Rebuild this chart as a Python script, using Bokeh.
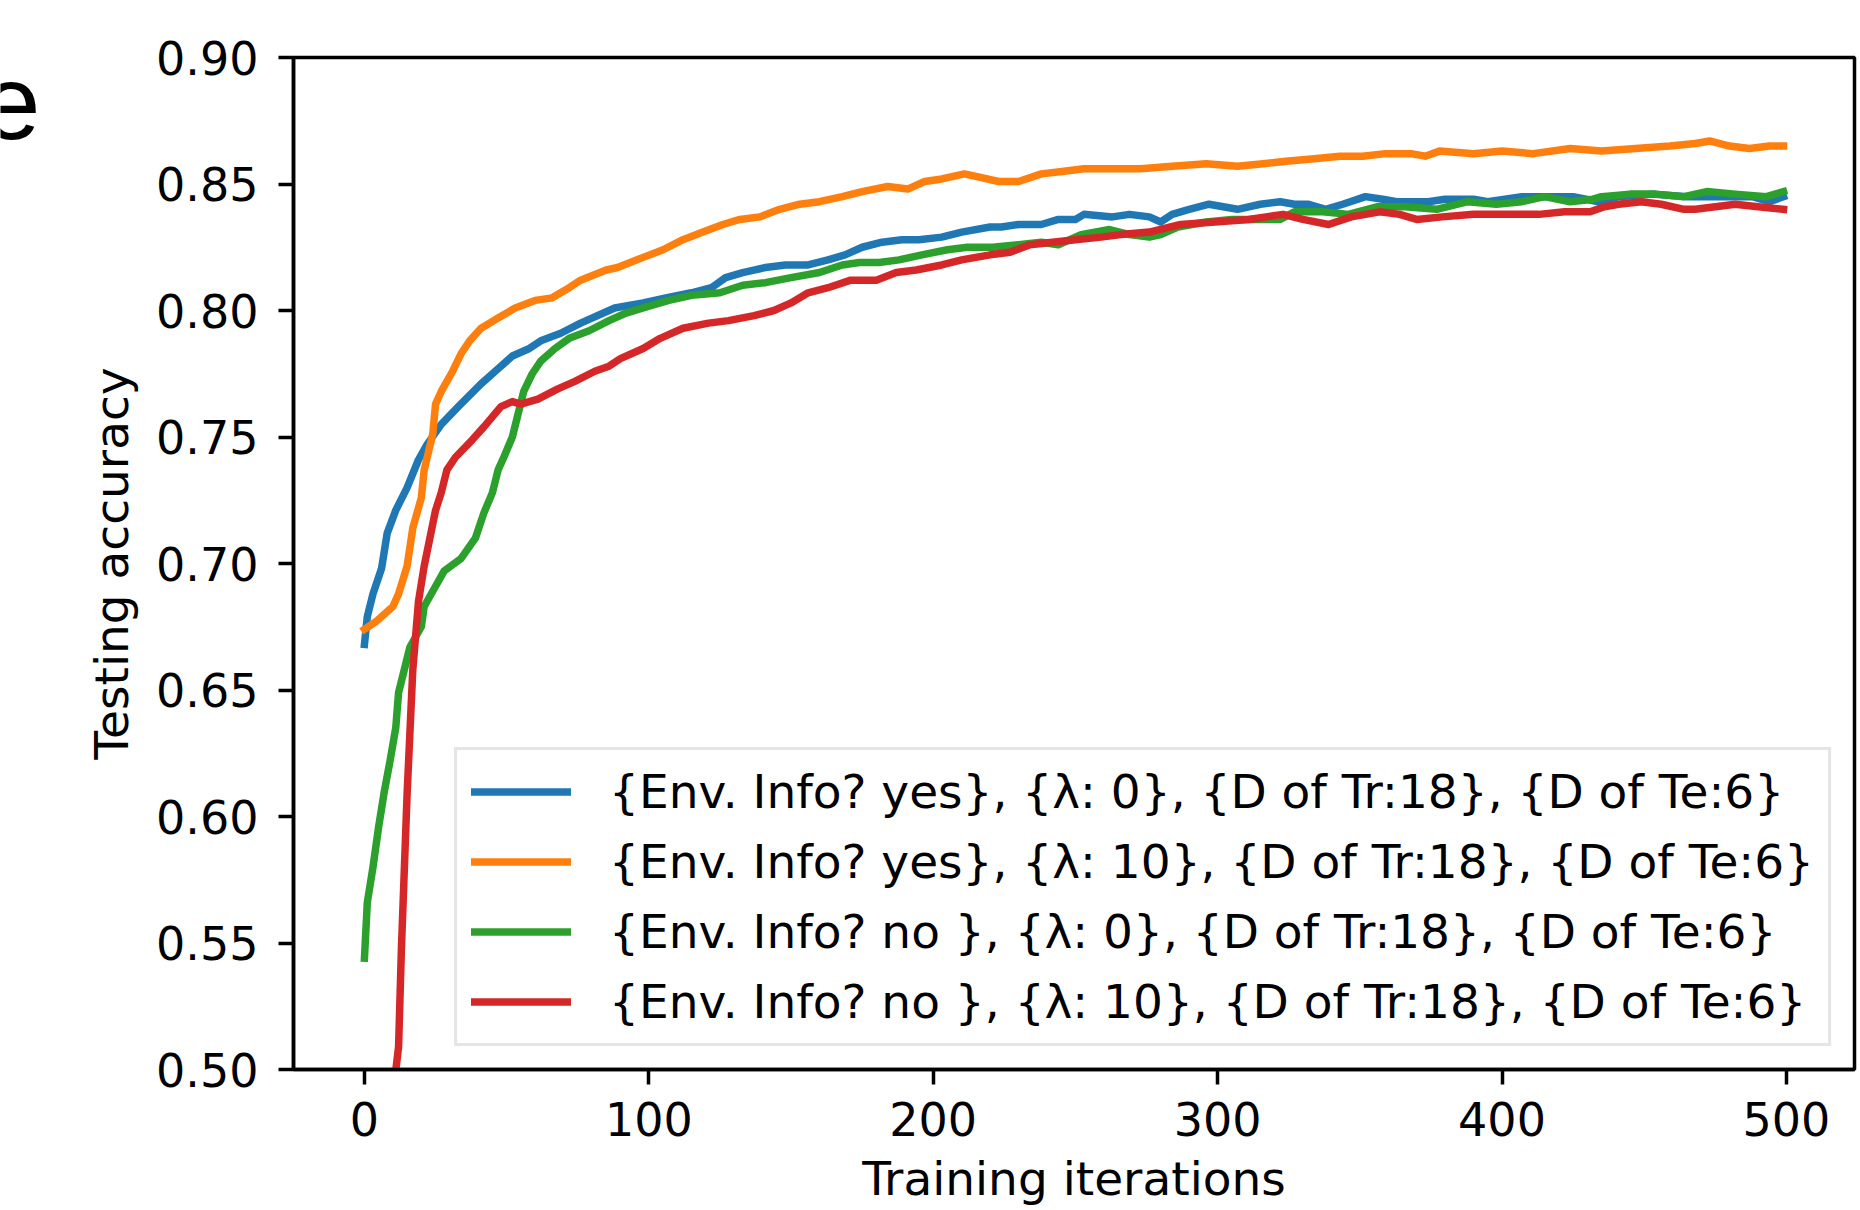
from bokeh.plotting import figure
from bokeh.layouts import row
from bokeh.models import FixedTicker, Legend, LegendItem, Range1d
from bokeh.core.properties import value
from bokeh.embed import file_html
from bokeh.resources import INLINE

# ---- data ----
iters_blue = [0, 1, 3, 6, 8, 11, 15, 19, 22, 27, 33, 41, 46, 52, 58, 62, 69, 76, 88, 98,
              106, 115, 122, 127, 133, 141, 148, 156, 163, 169, 175, 182, 189, 195, 203, 210,
              220, 224, 230, 238, 244, 250, 253, 263, 269, 276, 280, 284, 290, 297, 302, 307,
              315, 322, 327, 332, 338, 344, 352, 358, 363, 370, 374, 380, 390, 395, 407, 415,
              425, 434, 441, 453, 465, 476, 488, 494, 499]
acc_blue = [0.668, 0.679, 0.688, 0.698, 0.712, 0.721, 0.730, 0.741, 0.747, 0.755, 0.762, 0.771,
            0.776, 0.782, 0.785, 0.788, 0.791, 0.795, 0.801, 0.803, 0.805, 0.807, 0.809, 0.813,
            0.815, 0.817, 0.818, 0.818, 0.820, 0.822, 0.825, 0.827, 0.828, 0.828, 0.829, 0.831,
            0.833, 0.833, 0.834, 0.834, 0.836, 0.836, 0.838, 0.837, 0.838, 0.837, 0.835, 0.838,
            0.840, 0.842, 0.841, 0.840, 0.842, 0.843, 0.842, 0.842, 0.840, 0.842, 0.845, 0.844,
            0.843, 0.843, 0.843, 0.844, 0.844, 0.843, 0.845, 0.845, 0.845, 0.843, 0.845, 0.846,
            0.845, 0.845, 0.845, 0.843, 0.845]

iters_orange = [0, 4, 10, 12, 15, 17, 20, 21, 24, 25, 27, 31, 34, 37, 41, 47, 53, 60, 66, 72,
                76, 85, 89, 98, 105, 112, 119, 126, 132, 139, 146, 153, 160, 168, 175, 184, 191,
                197, 203, 211, 215, 223, 230, 238, 246, 253, 264, 273, 284, 296, 307, 316, 324,
                334, 343, 351, 359, 368, 373, 378, 390, 400, 411, 424, 435, 447, 459, 468, 473,
                480, 487, 494, 499]
acc_orange = [0.674, 0.677, 0.683, 0.688, 0.699, 0.714, 0.726, 0.737, 0.751, 0.763, 0.768, 0.776,
              0.783, 0.788, 0.793, 0.797, 0.801, 0.804, 0.805, 0.809, 0.812, 0.816, 0.817, 0.821,
              0.824, 0.828, 0.831, 0.834, 0.836, 0.837, 0.840, 0.842, 0.843, 0.845, 0.847, 0.849,
              0.848, 0.851, 0.852, 0.854, 0.853, 0.851, 0.851, 0.854, 0.855, 0.856, 0.856, 0.856,
              0.857, 0.858, 0.857, 0.858, 0.859, 0.860, 0.861, 0.861, 0.862, 0.862, 0.861, 0.863,
              0.862, 0.863, 0.862, 0.864, 0.863, 0.864, 0.865, 0.866, 0.867, 0.865, 0.864, 0.865,
              0.865]

iters_green = [0, 1, 3, 5, 7, 9, 11, 12, 14, 16, 20, 21, 25, 28, 34, 39, 42, 45, 47, 49, 52,
               54, 56, 59, 62, 67, 72, 79, 86, 92, 98, 107, 115, 125, 133, 141, 150, 160, 168,
               174, 181, 188, 196, 205, 212, 221, 230, 238, 244, 252, 262, 269, 276, 280, 286,
               296, 305, 313, 322, 327, 337, 346, 356, 366, 377, 388, 398, 407, 415, 424, 432,
               435, 445, 454, 464, 472, 482, 493, 499]
acc_green = [0.544, 0.566, 0.580, 0.596, 0.610, 0.622, 0.635, 0.649, 0.658, 0.667, 0.675, 0.683,
             0.691, 0.697, 0.702, 0.710, 0.720, 0.728, 0.737, 0.742, 0.750, 0.759, 0.768, 0.775,
             0.780, 0.785, 0.789, 0.792, 0.796, 0.799, 0.801, 0.804, 0.806, 0.807, 0.810, 0.811,
             0.813, 0.815, 0.818, 0.819, 0.819, 0.820, 0.822, 0.824, 0.825, 0.825, 0.826, 0.827,
             0.826, 0.830, 0.832, 0.830, 0.829, 0.830, 0.833, 0.835, 0.836, 0.836, 0.836, 0.839,
             0.839, 0.838, 0.841, 0.841, 0.840, 0.843, 0.842, 0.843, 0.845, 0.843, 0.844, 0.845,
             0.846, 0.846, 0.845, 0.847, 0.846, 0.845, 0.847]

iters_red = [10, 12, 13, 15, 17, 19, 21, 23, 25, 27, 29, 32, 38, 42, 48, 52, 55, 61, 68, 74,
             81, 86, 90, 98, 104, 112, 121, 128, 137, 144, 150, 156, 163, 171, 180, 187, 194,
             203, 210, 220, 227, 234, 242, 250, 259, 266, 276, 287, 299, 311, 323, 330, 339,
             347, 357, 364, 370, 379, 390, 401, 413, 422, 431, 436, 441, 449, 456, 464, 468,
             475, 482, 490, 499]
acc_red = [0.490, 0.509, 0.548, 0.609, 0.658, 0.685, 0.699, 0.710, 0.721, 0.728, 0.737, 0.742,
           0.749, 0.754, 0.762, 0.764, 0.763, 0.765, 0.769, 0.772, 0.776, 0.778, 0.781, 0.785,
           0.789, 0.793, 0.795, 0.796, 0.798, 0.800, 0.803, 0.807, 0.809, 0.812, 0.812, 0.815,
           0.816, 0.818, 0.820, 0.822, 0.823, 0.826, 0.827, 0.828, 0.829, 0.830, 0.831, 0.834,
           0.835, 0.836, 0.838, 0.836, 0.834, 0.837, 0.839, 0.838, 0.836, 0.837, 0.838, 0.838,
           0.838, 0.839, 0.839, 0.841, 0.842, 0.843, 0.842, 0.840, 0.840, 0.841, 0.842, 0.841,
           0.840]

series_labels = [
    "{Env. Info? yes}, {\u03bb: 0}, {D of Tr:18}, {D of Te:6}",
    "{Env. Info? yes}, {\u03bb: 10}, {D of Tr:18}, {D of Te:6}",
    "{Env. Info? no }, {\u03bb: 0}, {D of Tr:18}, {D of Te:6}",
    "{Env. Info? no }, {\u03bb: 10}, {D of Tr:18}, {D of Te:6}",
]
series_colors = ["#1f77b4", "#ff7f0e", "#2ca02c", "#d62728"]

x_ticks = [0, 100, 200, 300, 400, 500]
x_tick_labels = ["0", "100", "200", "300", "400", "500"]
y_ticks = [0.50, 0.55, 0.60, 0.65, 0.70, 0.75, 0.80, 0.85, 0.90]
y_tick_labels = ["0.50", "0.55", "0.60", "0.65", "0.70", "0.75", "0.80", "0.85", "0.90"]

x_title = "Training iterations"
y_title = "Testing accuracy"
panel_letter = "e"

# ---- styling ----
FONT = "DejaVu Sans"
FS_TICK = "46px"
FS_TEXT = "47px"
H = 1210
E_W = 40

# narrow strip holding the (partially cut) panel letter
pe = figure(width=E_W, height=H, x_range=Range1d(0, E_W), y_range=Range1d(0, H),
            output_backend="svg", toolbar_location=None,
            x_axis_location=None, y_axis_location=None,
            min_border_left=0, min_border_right=0, min_border_top=0, min_border_bottom=0)
pe.grid.visible = False
pe.outline_line_color = None
pe.text(x=[-19], y=[H - 54], text=[panel_letter], text_font=value("Liberation Sans"),
        text_font_size="106px", text_color="black", text_align="left",
        text_baseline="alphabetic")

# main chart
p = figure(width=1858 - E_W, height=H,
           x_range=Range1d(-24.95, 523.95), y_range=Range1d(0.5, 0.9),
           output_backend="svg", toolbar_location=None,
           min_border_left=293 - E_W, min_border_right=4,
           min_border_top=57, min_border_bottom=H - 1069)
p.grid.visible = False
p.background_fill_color = "white"
p.border_fill_color = "white"
p.outline_line_color = "black"
p.outline_line_width = 3.5

series = [(iters_blue, acc_blue), (iters_orange, acc_orange),
          (iters_green, acc_green), (iters_red, acc_red)]
renderers = []
for (xs, ys), col in zip(series, series_colors):
    r = p.line(xs, ys, line_color=col, line_width=7.5, line_join="round", line_cap="square")
    renderers.append(r)

for ax in (p.xaxis[0], p.yaxis[0]):
    ax.axis_line_width = 3.5
    ax.axis_line_color = "black"
    ax.major_tick_line_width = 3.5
    ax.major_tick_line_color = "black"
    ax.major_tick_out = 15
    ax.major_tick_in = 0
    ax.minor_tick_line_color = None
    ax.major_label_text_font = FONT
    ax.major_label_text_font_size = FS_TICK
    ax.major_label_text_color = "black"
    ax.axis_label_text_font = FONT
    ax.axis_label_text_font_size = FS_TEXT
    ax.axis_label_text_font_style = "normal"
    ax.axis_label_text_color = "black"

p.xaxis.ticker = FixedTicker(ticks=x_ticks)
p.xaxis.major_label_overrides = dict(zip(x_ticks, x_tick_labels))
p.yaxis.ticker = FixedTicker(ticks=y_ticks)
p.yaxis.major_label_overrides = dict(zip(y_ticks, y_tick_labels))
p.xaxis.major_label_standoff = 17
p.xaxis.axis_label = x_title
p.xaxis.axis_label_standoff = 12
p.yaxis.major_label_standoff = 20
p.yaxis.axis_label = y_title
p.yaxis.axis_label_standoff = 14

legend = Legend(items=[LegendItem(label=lab, renderers=[r])
                       for lab, r in zip(series_labels, renderers)],
                location="bottom_right")
legend.label_text_font = FONT
legend.label_text_font_size = FS_TEXT
legend.label_text_color = "black"
legend.glyph_width = 100
legend.glyph_height = 55
legend.label_height = 55
legend.label_standoff = 38
legend.spacing = 15
legend.padding = 14
legend.margin = 23
legend.border_line_color = "#cccccc"
legend.border_line_width = 3
legend.background_fill_color = "white"
legend.background_fill_alpha = 0.8
p.add_layout(legend)

layout = row(pe, p)
open("out.html", "w").write(file_html(layout, INLINE))
